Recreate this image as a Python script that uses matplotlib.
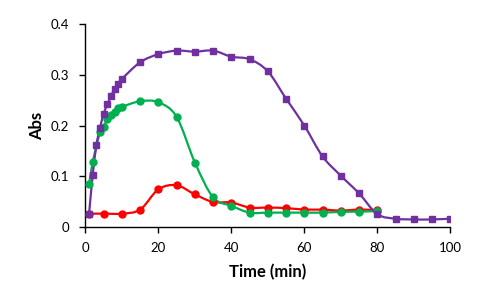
import numpy as np
import matplotlib
matplotlib.use("Agg")
import matplotlib.pyplot as plt
from matplotlib.path import Path
from matplotlib.patches import PathPatch

# ---- data ----
purple_x = [1, 2, 3, 4, 5, 6, 7, 8, 9, 10, 15, 20, 25, 30, 35, 40, 45, 50, 55, 60, 65, 70, 75, 80, 85, 90, 95, 100]
purple_y = [0.026, 0.103, 0.161, 0.196, 0.223, 0.242, 0.258, 0.273, 0.282, 0.292, 0.325, 0.341, 0.348, 0.346, 0.348,
            0.336, 0.331, 0.307, 0.253, 0.200, 0.139, 0.101, 0.066, 0.025, 0.016, 0.0145, 0.0145, 0.016]

green_x = [1, 2, 4, 5, 6, 7, 8, 9, 10, 15, 20, 25, 30, 35, 40, 45, 50, 55, 60, 65, 70, 75, 80]
green_y = [0.084, 0.128, 0.187, 0.198, 0.212, 0.221, 0.227, 0.234, 0.237, 0.248, 0.246, 0.217, 0.127, 0.058,
           0.0415, 0.028, 0.028, 0.028, 0.028, 0.028, 0.0295, 0.030, 0.031]

red_x = [1, 5, 10, 15, 20, 25, 30, 35, 40, 45, 50, 55, 60, 65, 70, 75, 80]
red_y = [0.026, 0.026, 0.026, 0.034, 0.074, 0.082, 0.064, 0.049, 0.048, 0.038, 0.038, 0.037, 0.034, 0.034,
         0.032, 0.034, 0.033]

x_ticks = [0, 20, 40, 60, 80, 100]
y_ticks = [0, 0.1, 0.2, 0.3, 0.4]
y_tick_labels = ["0", "0.1", "0.2", "0.3", "0.4"]

PURPLE = "#7030A0"
GREEN = "#00B050"
RED = "#FF0000"

plt.rcParams['font.family'] = ['Lato', 'DejaVu Sans']


def smooth_path(xs, ys):
    pts = np.column_stack([xs, ys]).astype(float)
    n = len(pts)
    verts = [pts[0]]
    codes = [Path.MOVETO]
    for i in range(n - 1):
        p0 = pts[i - 1] if i > 0 else pts[i]
        p1 = pts[i]
        p2 = pts[i + 1]
        p3 = pts[i + 2] if i + 2 < n else pts[i + 1]
        c1 = p1 + (p2 - p0) / 6.0
        c2 = p2 - (p3 - p1) / 6.0
        verts += [c1, c2, p2]
        codes += [Path.CURVE4] * 3
    return Path(verts, codes)


fig = plt.figure(figsize=(4.8, 3.0), dpi=100)
ax = fig.add_axes([0.178, 0.244, 0.760, 0.675])

for xs, ys, col, mk, ms in [(red_x, red_y, RED, 'o', 5.0),
                            (green_x, green_y, GREEN, 'o', 5.0),
                            (purple_x, purple_y, PURPLE, 's', 4.8)]:
    patch = PathPatch(smooth_path(xs, ys), facecolor='none', edgecolor=col, lw=1.6, zorder=2)
    ax.add_patch(patch)
    ax.plot(xs, ys, linestyle='none', marker=mk, markersize=ms, color=col, zorder=3)

ax.set_xlim(0, 100)
ax.set_ylim(0, 0.4)
ax.set_xticks(x_ticks)
ax.set_yticks(y_ticks)
ax.set_yticklabels(y_tick_labels)
for s in ['top', 'right']:
    ax.spines[s].set_visible(False)
for s in ['left', 'bottom']:
    ax.spines[s].set_linewidth(1.0)
ax.tick_params(axis='both', direction='out', length=4, width=1, labelsize=9.5, colors='black')
ax.tick_params(axis='y', pad=8)
ax.tick_params(axis='x', pad=7)
ax.set_xlabel("Time (min)", fontsize=12, fontweight='bold', labelpad=7)
ax.set_ylabel("Abs", fontsize=12, fontweight='bold', labelpad=4)

fig.savefig("out.png", dpi=100)
